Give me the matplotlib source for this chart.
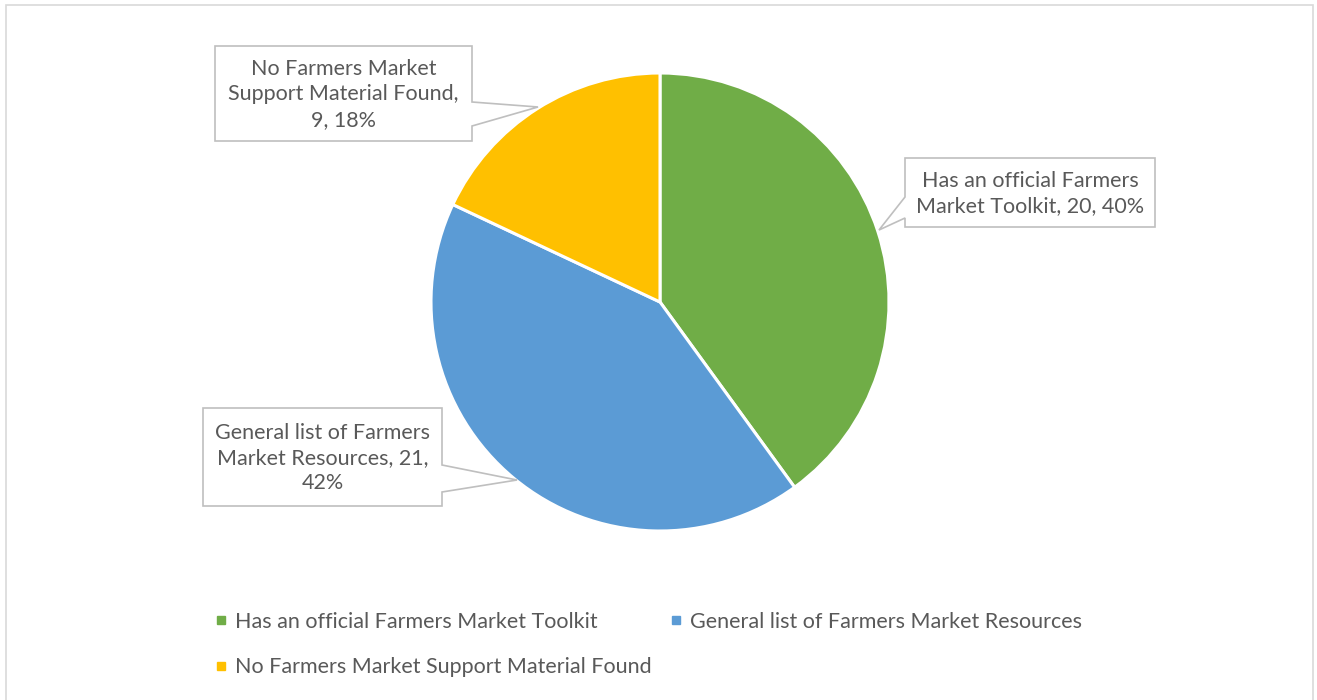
import textwrap

import matplotlib
matplotlib.use("Agg")
from matplotlib import pyplot as plt
from matplotlib.patches import Polygon, Rectangle
from matplotlib.lines import Line2D

plt.rcParams['font.family'] = ['Lato', 'DejaVu Sans']

categories = ["Has an official Farmers Market Toolkit",
              "General list of Farmers Market Resources",
              "No Farmers Market Support Material Found"]
counts = [20, 21, 9]
colors = ["#70ad47", "#5b9bd5", "#ffc000"]

W, H = 1317, 700
TEXT = "#595959"
FS = 15.5

# callout boxes: (x0, y0, x1, y1), side of the pointer, pointer base, pointer tip  (pixels, y down)
callouts = [
    ((905, 158, 1155, 227), "left", (197, 218), (879, 230)),
    ((203, 408, 442, 506), "right", (465, 492), (517, 480)),
    ((215, 46, 472, 141), "right", (102, 126), (538, 107)),
]


def px(x, y):
    return (x, H - y)


def callout(ax, box, side, base, tip, text):
    x0, y0, x1, y1 = box
    if side == "right":
        pts = [(x0, y0), (x1, y0), (x1, base[0]), tip, (x1, base[1]), (x1, y1), (x0, y1)]
    else:
        pts = [(x0, y0), (x1, y0), (x1, y1), (x0, y1), (x0, base[1]), tip, (x0, base[0])]
    ax.add_patch(Polygon([px(*p) for p in pts], closed=True, facecolor="white",
                         edgecolor="#bfbfbf", lw=1.2, zorder=5))
    ax.text(*px((x0 + x1) / 2, (y0 + y1) / 2 + 1), text, ha="center", va="center",
            fontsize=FS, color=TEXT, linespacing=1.32, zorder=6)


fig = plt.figure(figsize=(W / 100, H / 100), dpi=100)
ax = fig.add_axes([0, 0, 1, 1])

# chart area border
fig.patches.append(Rectangle((6 / W, -0.1), 1307 / W, 1.1 - 5 / H, transform=fig.transFigure,
                             facecolor="none", edgecolor="#d9d9d9", lw=1.2))

ax.pie(counts, colors=colors, startangle=90, counterclock=False,
       center=px(660, 302), radius=229,
       wedgeprops=dict(edgecolor="white", linewidth=2.2))
ax.set_xlim(0, W)
ax.set_ylim(0, H)
ax.set_aspect("equal")
ax.axis("off")

total = sum(counts)
for (box, side, base, tip), name, n in zip(callouts, categories, counts):
    label = f"{name}, {n}, {round(100 * n / total)}%"
    callout(ax, box, side, base, tip, textwrap.fill(label, 23))

handles = [Line2D([], [], marker="s", linestyle="none", markersize=5.5,
                  markerfacecolor=c, markeredgecolor=c) for c in colors]
order = [0, 2, 1]
fig.legend([handles[i] for i in order], [categories[i] for i in order],
           ncol=2, loc="upper left", bbox_to_anchor=(215 / W, 1 - 612 / H),
           frameon=False, fontsize=FS, labelcolor=TEXT, handlelength=0.6,
           handletextpad=0.35, columnspacing=0.8, labelspacing=1.18,
           borderaxespad=0, borderpad=0)

fig.savefig("out.png", dpi=100)
